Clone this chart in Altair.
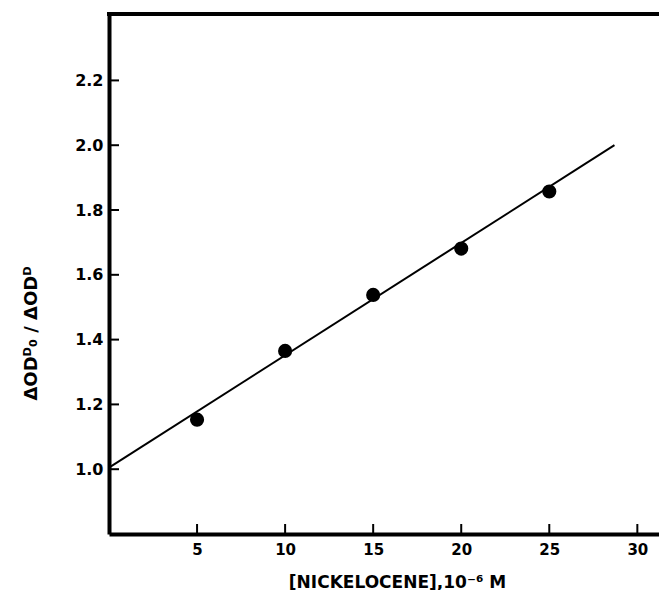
import altair as alt
import pandas as pd

# Data
conc = [5, 10, 15, 20, 25]
ratio = [1.153, 1.365, 1.538, 1.681, 1.857]
fit_x = [0.0, 28.7]
fit_y = [1.005, 2.0]
x_ticks = [5, 10, 15, 20, 25, 30]
y_ticks = [1.0, 1.2, 1.4, 1.6, 1.8, 2.0, 2.2]

W, H = 550, 520
XDOM = [0, 31.23]
YDOM = [0.8, 2.405]
FONT = "DejaVu Sans"

pts = pd.DataFrame({"x": conc, "y": ratio})
fit = pd.DataFrame({"x": fit_x, "y": fit_y})
xt = pd.DataFrame({"x": x_ticks})
yt = pd.DataFrame({"y": y_ticks})

xscale = alt.Scale(domain=XDOM, nice=False, zero=False)
yscale = alt.Scale(domain=YDOM, nice=False, zero=False)

xaxis = alt.Axis(
    values=x_ticks, grid=False, ticks=False, tickSize=0,
    domainColor="black", domainWidth=4,
    labelFont=FONT, labelFontSize=15, labelFontWeight="bold", labelColor="black",
    labelPadding=8,
    title="[NICKELOCENE],10⁻⁶ M",
    titleFont=FONT, titleFontSize=17, titleFontWeight="bold", titleColor="black",
    titleX=288, titleY=53, titleBaseline="alphabetic", titleAlign="center",
)
yaxis = alt.Axis(
    values=y_ticks, format=".1f", grid=False, ticks=False, tickSize=0,
    domainColor="black", domainWidth=4,
    labelFont=FONT, labelFontSize=16, labelFontWeight="bold", labelColor="black",
    labelPadding=6,
    title="ΔODᴰ₀   /   ΔODᴰ",
    titleFont=FONT, titleFontSize=18, titleFontWeight="bold", titleColor="black",
    titleX=-73, titleY=319, titleAlign="center", titleBaseline="alphabetic",
)

line = alt.Chart(fit).mark_line(color="black", strokeWidth=2).encode(
    x=alt.X("x:Q", scale=xscale, axis=xaxis),
    y=alt.Y("y:Q", scale=yscale, axis=yaxis),
)

dots = alt.Chart(pts).mark_circle(color="black", opacity=1, size=200).encode(
    x=alt.X("x:Q", scale=xscale),
    y=alt.Y("y:Q", scale=yscale),
)

xtick_marks = alt.Chart(xt).mark_rule(color="black", strokeWidth=2).encode(
    x=alt.X("x:Q", scale=xscale),
    y=alt.value(H - 10),
    y2=alt.value(H),
)

ytick_marks = alt.Chart(yt).mark_rule(color="black", strokeWidth=2).encode(
    y=alt.Y("y:Q", scale=yscale),
    x=alt.value(0),
    x2=alt.value(10),
)

top_border = alt.Chart(pd.DataFrame({"a": [0]})).mark_rule(
    color="black", strokeWidth=4
).encode(
    x=alt.value(-2), x2=alt.value(W), y=alt.value(0)
)

chart = alt.layer(line, dots, xtick_marks, ytick_marks, top_border).properties(
    width=W, height=H,
    autosize=alt.AutoSizeParams(type="none"),
    padding={"left": 101, "top": 6, "right": 0, "bottom": 56},
).configure_view(stroke=None).configure(background="white")

chart.save("out.html", embed_options={"renderer": "svg", "actions": False})
